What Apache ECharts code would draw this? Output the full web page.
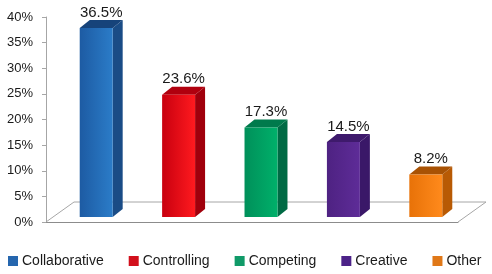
<!DOCTYPE html>
<html>
<head>
<meta charset="utf-8">
<script src="https://cdn.jsdelivr.net/npm/echarts@6/dist/echarts.min.js"></script>
<style>
  html, body { margin: 0; padding: 0; background: #fff; }
  #chart { width: 492px; height: 274px; }
</style>
</head>
<body>
<div id="chart"></div>
<script>
const categories = ['Collaborative', 'Controlling', 'Competing', 'Creative', 'Other'];
const values = [36.5, 23.6, 17.3, 14.5, 8.2];
const yTicks = { min: 0, max: 40, interval: 5 };

// front gradient / side / top / legend colour per bar
const palette = [
  { front: ['#1d5ba3', '#2b7cc8'], side: '#1a4c86', top: '#16437a', legend: '#2566ae' },
  { front: ['#c8000f', '#ff1a1f'], side: '#a0000c', top: '#b0000e', legend: '#d2101c' },
  { front: ['#00905a', '#00b06a'], side: '#006a44', top: '#007a4c', legend: '#109a68' },
  { front: ['#4e2282', '#5e2c98'], side: '#3a1868', top: '#3e1a6c', legend: '#4c2288' },
  { front: ['#e87208', '#ff8a1c'], side: '#b85a04', top: '#a85204', legend: '#e07818' },
];

const DEPTH_X = 10, DEPTH_Y = -8;      // bar depth
const SHIFT_X = 9, SHIFT_Y = -5;       // bar placed back in floor
const FLOOR_X = 28, FLOOR_Y = -20;     // floor depth
const font = '"Liberation Sans", Arial, sans-serif';

function renderBar(colors) {
  return function (params, api) {
    const idx = api.value(0);
    const top = api.coord([idx, api.value(1)]);
    const base = api.coord([idx, 0]);
    const band = api.size([1, 0])[0];
    const w = band * 0.4;
    const cx = base[0] + SHIFT_X;
    const x0 = cx - w / 2, x1 = cx + w / 2;
    const yb = base[1] + SHIFT_Y;
    const yt = yb - (base[1] - top[1]) * 1.01;
    const front = new echarts.graphic.LinearGradient(0, 0, 1, 0, [
      { offset: 0, color: colors.front[0] },
      { offset: 1, color: colors.front[1] },
    ]);
    return {
      type: 'group',
      children: [
        { type: 'polygon', shape: { points: [[x1, yb], [x1 + DEPTH_X, yb + DEPTH_Y], [x1 + DEPTH_X, yt + DEPTH_Y], [x1, yt]] },
          style: { fill: colors.side } },
        { type: 'polygon', shape: { points: [[x0, yt], [x1, yt], [x1 + DEPTH_X, yt + DEPTH_Y], [x0 + DEPTH_X, yt + DEPTH_Y]] },
          style: { fill: colors.top } },
        { type: 'rect', shape: { x: x0, y: yt, width: w, height: yb - yt },
          style: { fill: front } },
        { type: 'text',
          style: { text: api.value(1).toFixed(1) + '%', x: cx + DEPTH_X / 2, y: yt + DEPTH_Y,
            align: 'center', verticalAlign: 'bottom', fill: '#1a1a1a', fontSize: 15, fontFamily: font } },
      ],
    };
  };
}

const series = categories.map((name, i) => ({
  name: name,
  type: 'custom',
  color: palette[i].legend,
  renderItem: renderBar(palette[i]),
  encode: { x: 0, y: 1 },
  data: [[i, values[i]]],
  z: 3,
}));

series.unshift({
  name: 'floor',
  type: 'custom',
  silent: true,
  z: 1,
  data: [[0, 0]],
  renderItem: function (params) {
    const cs = params.coordSys;
    const xl = cs.x, xr = cs.x + cs.width, yf = cs.y + cs.height;
    return {
      type: 'polyline',
      shape: { points: [[xl, yf], [xl + FLOOR_X, yf + FLOOR_Y], [xr + FLOOR_X, yf + FLOOR_Y], [xr, yf]] },
      style: { stroke: '#a6a6a6', lineWidth: 1, fill: null },
    };
  },
});

const chart = echarts.init(document.getElementById('chart'));
chart.setOption({
  animation: false,
  grid: { left: 46, right: 34, top: 17, bottom: 52 },
  legend: {
    data: categories,
    left: 8,
    right: 0,
    top: 254,
    padding: 0,
    icon: 'rect',
    itemWidth: 10,
    itemHeight: 10,
    itemGap: 25,
    textStyle: { color: '#1a1a1a', fontSize: 14, fontFamily: font, padding: [0, 0, 0, -1] },
  },
  xAxis: {
    type: 'category',
    data: categories,
    axisLine: { lineStyle: { color: '#8c8c8c' } },
    axisTick: { show: false },
    axisLabel: { show: false },
  },
  yAxis: {
    type: 'value',
    min: yTicks.min,
    max: yTicks.max,
    interval: yTicks.interval,
    axisLine: { show: true, lineStyle: { color: '#a6a6a6' } },
    axisTick: { show: true, length: 4, lineStyle: { color: '#a6a6a6' } },
    splitLine: { show: false },
    axisLabel: { formatter: '{value}%', color: '#1a1a1a', fontSize: 13, fontFamily: font, margin: 13 },
  },
  series: series,
});
</script>
</body>
</html>
